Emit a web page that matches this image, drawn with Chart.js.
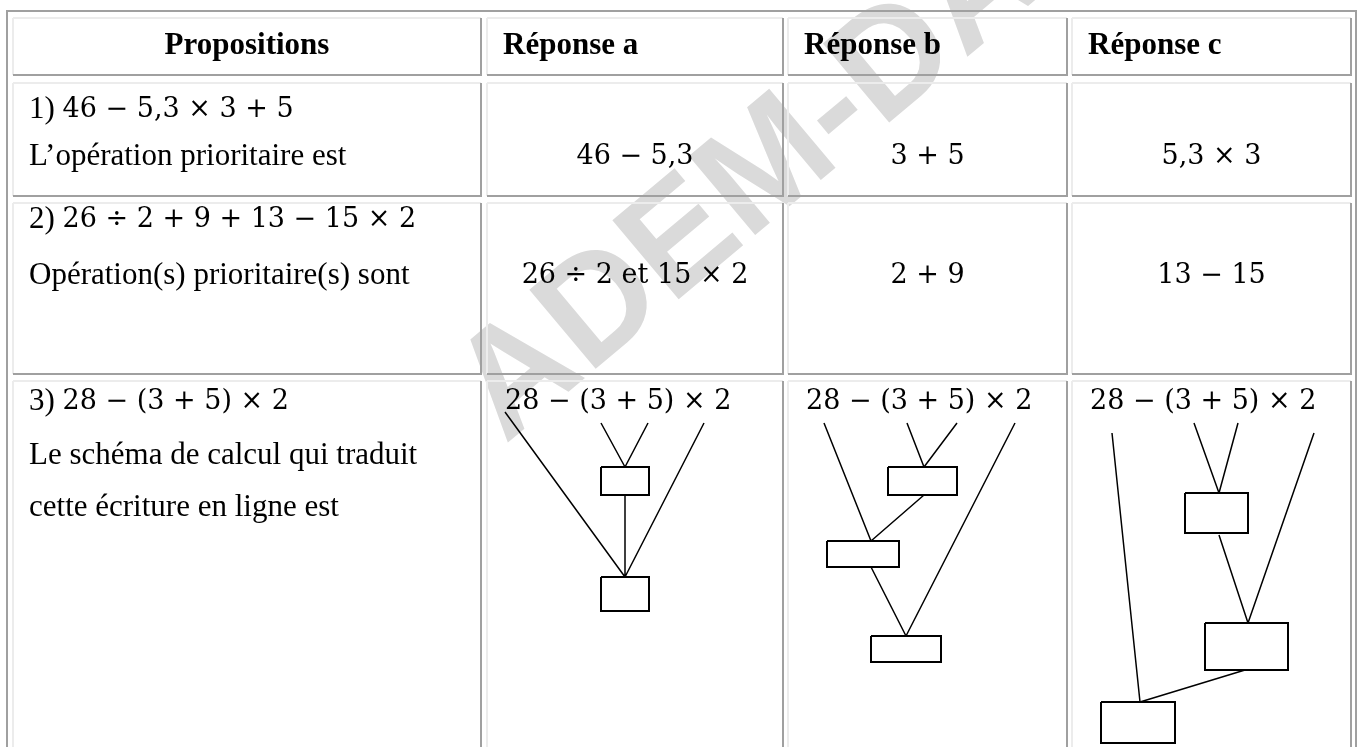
<!DOCTYPE html>
<html>
<head>
<meta charset="utf-8">
<script src="https://cdn.jsdelivr.net/npm/chart.js@4.4.0/dist/chart.umd.min.js"></script>
<style>
  html, body { margin: 0; padding: 0; background: #fff; }
  #wrap { width: 1357px; height: 747px; }
</style>
</head>
<body>
<div id="wrap"><canvas id="c" width="1357" height="747"></canvas></div>
<script>
// contenu du tableau
const headers = ['Propositions', 'Réponse a', 'Réponse b', 'Réponse c'];
const questionNums = ['1)', '2)', '3)'];
const questionExprs = ['46 − 5,3 × 3 + 5', '26 ÷ 2 + 9 + 13 − 15 × 2', '28 − (3 + 5) × 2'];
const questionTexts = [
  ['L’opération prioritaire est'],
  ['Opération(s) prioritaire(s) sont'],
  ['Le schéma de calcul qui traduit', 'cette écriture en ligne est']
];
const answersQ1 = ['46 − 5,3', '3 + 5', '5,3 × 3'];
const answersQ2 = ['26 ÷ 2 et 15 × 2', '2 + 9', '13 − 15'];
const answersQ3 = ['28 − (3 + 5) × 2', '28 − (3 + 5) × 2', '28 − (3 + 5) × 2'];
const watermark = 'ADEM-DAKAR';

// mise en page (pixels de la page)
const COLS = [[13, 481], [487, 783], [788, 1067], [1072, 1351]];
const ROWS = [[18, 75], [83, 196], [203, 374], [381, 780]];
const LINE_Y = [[110, 157], [220, 276], [402, 456, 508]];
const HEAD_Y = 46;
const PAD_X = 16;
const Q3_EXPR_X = [505, 806, 1090];

// schémas de calcul : cases et traits
const schemaBoxes = [
  [[601, 467, 48, 28], [601, 577, 48, 34]],
  [[888, 467, 69, 28], [827, 541, 72, 26], [871, 636, 70, 26]],
  [[1185, 493, 63, 40], [1205, 623, 83, 47], [1101, 702, 74, 41]]
];
const schemaLinks = [
  [[505, 412, 625, 577], [601, 423, 625, 467], [648, 423, 625, 467], [625, 495, 625, 577], [704, 423, 625, 577]],
  [[824, 423, 871, 541], [907, 423, 924, 467], [957, 423, 924, 467], [924, 495, 871, 541], [871, 567, 906, 636], [1015, 423, 906, 636]],
  [[1112, 433, 1140, 702], [1194, 423, 1219, 493], [1238, 423, 1219, 493], [1219, 535, 1248, 623], [1314, 433, 1248, 623], [1245, 670, 1140, 702]]
];

const TEXT_FONT = '31px "Liberation Serif", "Times New Roman", serif';
const BOLD_FONT = 'bold 31px "Liberation Serif", "Times New Roman", serif';
const MATH_FONT = '27px "DejaVu Serif", serif';

function linkPoints(links) {
  const pts = [];
  links.forEach(l => {
    pts.push({ x: l[0], y: l[1] }, { x: l[2], y: l[3] }, { x: null, y: null });
  });
  return pts;
}

function boxPoints(boxes) {
  const pts = [];
  boxes.forEach(b => {
    const [x, y, w, h] = b;
    pts.push({ x: x, y: y }, { x: x + w, y: y }, { x: x + w, y: y + h }, { x: x, y: y + h }, { x: x, y: y }, { x: null, y: null });
  });
  return pts;
}

const datasets = [];
schemaLinks.forEach(l => datasets.push({
  data: linkPoints(l), showLine: true, borderColor: '#000', borderWidth: 1.5,
  pointRadius: 0, spanGaps: false, fill: false
}));
schemaBoxes.forEach(b => datasets.push({
  data: boxPoints(b), showLine: true, borderColor: '#000', borderWidth: 2,
  pointRadius: 0, spanGaps: false, fill: false
}));

//绘制表格
const tablePlugin = {
  id: 'tablePlugin',
  beforeDatasetsDraw(chart) {
    const ctx = chart.ctx;
    const sx = v => chart.scales.x.getPixelForValue(v);
    const sy = v => chart.scales.y.getPixelForValue(v);
    const seg = (x1, y1, x2, y2, color, w) => {
      ctx.strokeStyle = color;
      ctx.lineWidth = w;
      ctx.beginPath();
      ctx.moveTo(sx(x1), sy(y1));
      ctx.lineTo(sx(x2), sy(y2));
      ctx.stroke();
    };
    ctx.save();
    // filigrane
    ctx.save();
    ctx.translate(sx(505), sy(445));
    ctx.rotate(-40 * Math.PI / 180);
    ctx.font = 'bold 150px "Liberation Sans", Arial, sans-serif';
    ctx.fillStyle = '#dadada';
    ctx.textBaseline = 'alphabetic';
    ctx.fillText(watermark, 0, 0);
    ctx.restore();

    // bordure extérieure
    seg(6, 11, 1357, 11, '#a0a0a0', 2);
    seg(7, 10, 7, 747, '#a0a0a0', 2);
    seg(1356, 10, 1356, 747, '#a0a0a0', 2);
    // cellules
    ROWS.forEach(r => {
      COLS.forEach(c => {
        seg(c[0], r[0], c[1], r[0], '#ececec', 2);
        seg(c[0], r[0], c[0], r[1], '#ececec', 2);
        seg(c[1], r[0], c[1], r[1], '#a0a0a0', 2);
        seg(c[0], r[1], c[1] + 1, r[1], '#a0a0a0', 2);
      });
    });
    ctx.restore();
  },
  afterDatasetsDraw(chart) {
    const ctx = chart.ctx;
    const sx = v => chart.scales.x.getPixelForValue(v);
    const sy = v => chart.scales.y.getPixelForValue(v);
    ctx.save();
    ctx.fillStyle = '#000';
    ctx.textBaseline = 'middle';

    // en-têtes
    ctx.font = BOLD_FONT;
    headers.forEach((h, i) => {
      if (i === 0) {
        ctx.textAlign = 'center';
        ctx.fillText(h, sx((COLS[0][0] + COLS[0][1]) / 2), sy(HEAD_Y));
      } else {
        ctx.textAlign = 'left';
        ctx.fillText(h, sx(COLS[i][0] + PAD_X), sy(HEAD_Y));
      }
    });

    // propositions
    ctx.textAlign = 'left';
    questionNums.forEach((n, i) => {
      const x0 = sx(COLS[0][0] + PAD_X);
      const y0 = sy(LINE_Y[i][0]);
      ctx.font = TEXT_FONT;
      const label = n + ' ';
      ctx.fillText(label, x0, y0);
      const w = ctx.measureText(label).width;
      ctx.font = MATH_FONT;
      ctx.fillText(questionExprs[i], x0 + w, y0);
      ctx.font = TEXT_FONT;
      questionTexts[i].forEach((t, j) => {
        ctx.fillText(t, x0, sy(LINE_Y[i][j + 1]));
      });
    });

    // réponses
    ctx.font = MATH_FONT;
    ctx.textAlign = 'center';
    answersQ1.forEach((a, i) => {
      const c = COLS[i + 1];
      ctx.fillText(a, sx((c[0] + c[1]) / 2), sy(LINE_Y[0][1]));
    });
    answersQ2.forEach((a, i) => {
      const c = COLS[i + 1];
      ctx.fillText(a, sx((c[0] + c[1]) / 2), sy(LINE_Y[1][1]));
    });
    ctx.textAlign = 'left';
    answersQ3.forEach((a, i) => {
      ctx.fillText(a, sx(Q3_EXPR_X[i]), sy(LINE_Y[2][0]));
    });
    ctx.restore();
  }
};

new Chart(document.getElementById('c').getContext('2d'), {
  type: 'scatter',
  data: { datasets: datasets },
  options: {
    responsive: false,
    animation: false,
    layout: { padding: 0 },
    plugins: { legend: { display: false }, tooltip: { enabled: false } },
    scales: {
      x: { type: 'linear', min: 0, max: 1357, display: false },
      y: { type: 'linear', min: 0, max: 747, reverse: true, display: false }
    }
  },
  plugins: [tablePlugin]
});
</script>
</body>
</html>
